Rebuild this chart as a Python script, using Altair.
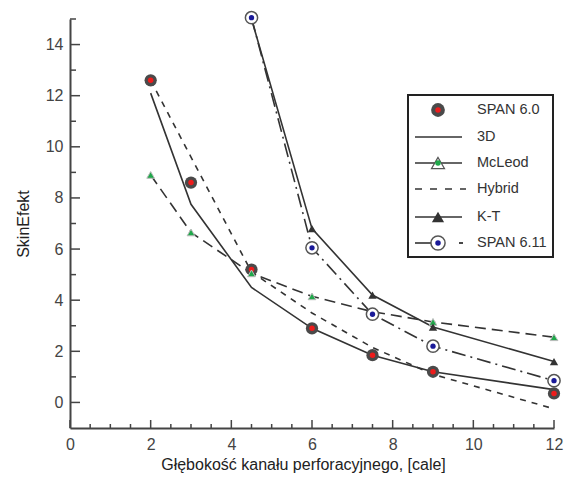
import altair as alt
import pandas as pd

# ---- data ----
x7 = [2, 3, 4.5, 6, 7.5, 9, 12]
span60 = [12.6, 8.6, 5.2, 2.9, 1.85, 1.2, 0.35]
d3 = [12.1, 7.75, 4.5, 2.9, 1.85, 1.2, 0.5]
mcleod = [8.9, 6.65, 5.05, 4.15, 3.55, 3.15, 2.55]
hybrid = [12.6, 9.6, 5.1, 3.5, 2.15, 1.1, -0.25]
x5 = [4.5, 6, 7.5, 9, 12]
kt = [15.0, 6.8, 4.2, 2.95, 1.6]
span611 = [15.05, 6.05, 3.45, 2.2, 0.85]

x_major = [0, 2, 4, 6, 8, 10, 12]
x_minor = [0.5, 1, 1.5, 2.5, 3, 3.5, 4.5, 5, 5.5, 6.5, 7, 7.5, 8.5, 9, 9.5, 10.5, 11, 11.5]
y_major = [0, 2, 4, 6, 8, 10, 12, 14]
y_minor = [1, 3, 5, 7, 9, 11, 13, 15]

legend_labels = ["SPAN 6.0", "3D", "McLeod", "Hybrid", "K-T", "SPAN 6.11"]

W, H = 484, 409
LINE = "#333333"
FONT = "Liberation Sans"

xs = alt.Scale(domain=[0, 12], nice=False, zero=False)
ys = alt.Scale(domain=[-1, 15], nice=False, zero=False)
XAX = alt.Axis(values=x_major, title="Głębokość kanału perforacyjnego, [cale]",
               labelFlush=False, titleX=233)
YAX = alt.Axis(values=y_major, title="SkinEfekt", labelFlush=False)


def X(field="x"):
    return alt.X(f"{field}:Q", scale=xs, axis=XAX)


def Y(field="y"):
    return alt.Y(f"{field}:Q", scale=ys, axis=YAX)


def df(xv, yv):
    return pd.DataFrame({"x": xv, "y": yv})


def line(xv, yv, dash=None):
    kw = dict(color=LINE, strokeWidth=1.6, clip=False)
    if dash:
        kw["strokeDash"] = dash
    return alt.Chart(df(xv, yv)).mark_line(**kw).encode(x=X(), y=Y())


def pts(xv, yv, **kw):
    return alt.Chart(df(xv, yv)).mark_point(clip=False, **kw).encode(x=X(), y=Y())


layers = []
# lines
layers.append(line(x7, d3))
layers.append(line(x7, mcleod, dash=[11, 6]))
layers.append(line(x7, hybrid, dash=[6, 6]))
layers.append(line(x5, kt))
layers.append(line(x5, span611, dash=[14, 5, 2, 5]))

# axis ticks (inward)
layers.append(alt.Chart(pd.DataFrame({"x": x_major})).mark_rule(color="#444", strokeWidth=1.5).encode(
    x=X(), y=alt.value(H), y2=alt.value(H - 8)))
layers.append(alt.Chart(pd.DataFrame({"x": x_minor})).mark_rule(color="#444", strokeWidth=1.5).encode(
    x=X(), y=alt.value(H), y2=alt.value(H - 4)))
layers.append(alt.Chart(pd.DataFrame({"y": y_major})).mark_rule(color="#444", strokeWidth=1.5).encode(
    y=Y(), x=alt.value(0), x2=alt.value(10)))
layers.append(alt.Chart(pd.DataFrame({"y": y_minor})).mark_rule(color="#444", strokeWidth=1.5).encode(
    y=Y(), x=alt.value(0), x2=alt.value(6)))

# markers
layers.append(pts(x7, span60, shape="circle", filled=True, color="#4a4a4a", size=150, opacity=1))
layers.append(pts(x7, span60, shape="circle", filled=True, color="#ee1c1c", size=30, opacity=1))
layers.append(pts(x7, mcleod, shape="triangle-up", filled=True, fill="#1fa84a", stroke="#bbbbbb",
                  strokeWidth=1, size=60, opacity=1))
layers.append(pts(x5[1:], kt[1:], shape="triangle-up", filled=True, color="#333333", size=70, opacity=1))
layers.append(pts(x5, span611, shape="circle", filled=True, fill="white", stroke="#555555",
                  strokeWidth=1.5, size=150, opacity=1))
layers.append(pts(x5, span611, shape="circle", filled=True, color="#1a1a99", size=28, opacity=1))

# ---- legend (drawn box) ----
one = pd.DataFrame({"a": [0]})
BX0, BX1, BY0, BY1 = 338, 483, 76, 238
layers.append(alt.Chart(one).mark_rect(fill="white", stroke="#222", strokeWidth=2).encode(
    x=alt.value(BX0), x2=alt.value(BX1), y=alt.value(BY0), y2=alt.value(BY1)))
rows_y = [91, 118, 144, 170, 198, 224]
LX0, LX1, MX, TX = 345, 392, 368, 407
for i, lab in enumerate(legend_labels):
    yy = rows_y[i]
    layers.append(alt.Chart(one).mark_text(align="left", baseline="middle", font=FONT,
                                           fontSize=14.5, color="#333").encode(
        x=alt.value(TX), y=alt.value(yy), text=alt.value(lab)))
    if lab in ("3D", "McLeod", "K-T"):
        layers.append(alt.Chart(one).mark_rule(color=LINE, strokeWidth=1.6).encode(
            x=alt.value(LX0), x2=alt.value(LX1), y=alt.value(yy)))
    if lab == "Hybrid":
        layers.append(alt.Chart(one).mark_rule(color=LINE, strokeWidth=1.6, strokeDash=[7, 8]).encode(
            x=alt.value(LX0), x2=alt.value(LX1 + 4), y=alt.value(yy)))
    if lab == "SPAN 6.11":
        layers.append(alt.Chart(one).mark_rule(color=LINE, strokeWidth=1.6).encode(
            x=alt.value(LX0), x2=alt.value(MX), y=alt.value(yy)))
        layers.append(alt.Chart(one).mark_rule(color=LINE, strokeWidth=1.8).encode(
            x=alt.value(LX1 - 3), x2=alt.value(LX1 + 1), y=alt.value(yy)))

    def sym(**kw):
        return alt.Chart(one).mark_point(opacity=1, **kw).encode(x=alt.value(MX), y=alt.value(yy))

    if lab == "SPAN 6.0":
        layers.append(sym(shape="circle", filled=True, color="#4a4a4a", size=190))
        layers.append(sym(shape="circle", filled=True, color="#ee1c1c", size=30))
    if lab == "McLeod":
        layers.append(sym(shape="triangle-up", filled=True, fill="white", stroke="#555",
                          strokeWidth=1.2, size=170))
        layers.append(sym(shape="circle", filled=True, color="#1fa84a", size=30))
    if lab == "K-T":
        layers.append(sym(shape="triangle-up", filled=True, color="#333", size=150))
    if lab == "SPAN 6.11":
        layers.append(sym(shape="circle", filled=True, fill="white", stroke="#555",
                          strokeWidth=1.5, size=200))
        layers.append(sym(shape="circle", filled=True, color="#1a1a99", size=30))

chart = alt.layer(*layers).properties(
    width=W, height=H,
    autosize=alt.AutoSizeParams(type="none"),
    padding={"left": 62, "top": 11, "right": 14, "bottom": 46},
    background="white",
).configure_view(stroke=None).configure_axis(
    grid=False, ticks=False, domainColor="#444", domainWidth=2,
    labelFont=FONT, labelFontSize=16, labelColor="#444",
    titleFont=FONT, titleFontSize=16, titleColor="#222", titleFontWeight="normal",
).configure_axisX(labelPadding=8, titlePadding=4).configure_axisY(labelPadding=7, titlePadding=14)

chart.save("out.html", embed_options={"renderer": "svg", "actions": False})
